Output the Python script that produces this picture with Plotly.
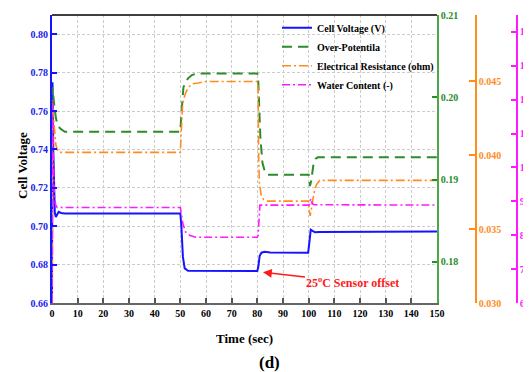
import plotly.graph_objects as go

# ---- data ----
t_cell = [0, 0.2, 0.5, 0.8, 1.1, 1.5, 2.0, 2.6, 3.5, 5, 50, 50.4, 51.0, 51.7, 53, 80, 80.4, 80.9, 81.6, 82.8, 85,
          99.8, 100.3, 100.8, 101.5, 102.5, 104, 150]
v_cell = [0.66, 0.775, 0.74, 0.712, 0.707, 0.7048, 0.7062, 0.7075, 0.7069, 0.7066, 0.7066, 0.700, 0.684, 0.678,
          0.6768, 0.6767, 0.679, 0.6845, 0.6862, 0.6867, 0.6863, 0.6862, 0.692, 0.6982, 0.6976, 0.6968, 0.697, 0.6972]

t_op = [0, 0.15, 0.4, 0.9, 1.5, 2.2, 3.2, 5, 50, 50.3, 50.6, 51.2, 52, 53, 54.5, 56.5, 80, 80.3, 80.7, 81.2, 82,
        83, 84, 100, 100.5, 101, 101.8, 102.6, 103.5, 150]
v_op = [0.175, 0.2012, 0.2005, 0.1990, 0.1975, 0.1966, 0.1962, 0.1958, 0.1958, 0.1975, 0.1990, 0.2012, 0.2018,
        0.2023, 0.2027, 0.2029, 0.2029, 0.2025, 0.1990, 0.1950, 0.1920, 0.1909, 0.1906, 0.1906, 0.1892, 0.1899,
        0.1917, 0.1925, 0.1927, 0.1927]

t_er = [0, 0.2, 0.5, 1.0, 1.5, 2.2, 3.0, 50, 50.3, 50.9, 51.8, 52.8, 53.8, 55, 57, 60, 80, 80.3, 80.5, 80.8, 81.5,
        82.5, 84, 100, 100.3, 100.6, 101.2, 102, 103, 104.3, 150]
v_er = [0.030, 0.0435, 0.0427, 0.0416, 0.0407, 0.0403, 0.0402, 0.0402, 0.0418, 0.0435, 0.0441, 0.0445, 0.0447,
        0.04485, 0.0449, 0.0450, 0.0450, 0.0445, 0.0400, 0.0381, 0.0373, 0.0370, 0.0369, 0.0369, 0.0362, 0.0359,
        0.0365, 0.0374, 0.0380, 0.0383, 0.0383]

t_wc = [0, 0.2, 0.5, 0.9, 1.4, 2.0, 50, 50.3, 51.0, 52.0, 53.8, 56, 80, 80.3, 80.6, 81.0, 100, 100.4, 100.8,
        101.3, 102, 150]
v_wc = [6, 12.0, 10.2, 9.2, 8.9, 8.82, 8.82, 8.70, 8.33, 8.10, 7.99, 7.94, 7.94, 8.0, 8.6, 8.89, 8.89, 8.92,
        9.08, 8.95, 8.9, 8.89]

x_ticks = list(range(0, 151, 10))
y1_ticks = [0.66, 0.68, 0.70, 0.72, 0.74, 0.76, 0.78, 0.80]
y2_ticks = [0.18, 0.19, 0.20, 0.21]
y3_ticks = [0.030, 0.035, 0.040, 0.045]
y4_ticks = [6, 7, 8, 9, 10, 11, 12, 13, 14]

FONT = "Liberation Serif"
BLUE = "#1414ff"
GREEN = "#2a8c2a"
ORANGE = "#ff8c1e"
MAGENTA = "#ff1aff"

fig = go.Figure()
fig.add_trace(go.Scatter(x=t_cell, y=v_cell, name="Cell Voltage (V)", mode="lines",
                         line=dict(color=BLUE, width=2), yaxis="y"))
fig.add_trace(go.Scatter(x=t_op, y=v_op, name="Over-Potentila", mode="lines",
                         line=dict(color=GREEN, width=2, dash="10px,6px"), yaxis="y2"))
fig.add_trace(go.Scatter(x=t_er, y=v_er, name="Electrical Resistance (ohm)", mode="lines",
                         line=dict(color=ORANGE, width=1.6, dash="9px,3px,2px,3px"), yaxis="y3"))
fig.add_trace(go.Scatter(x=t_wc, y=v_wc, name="Water Content (-)", mode="lines",
                         line=dict(color=MAGENTA, width=1.6, dash="8px,3px,2px,3px"), yaxis="y4"))

grid = dict(showgrid=True, gridcolor="#cccccc", gridwidth=1, griddash="3px,2px")

# the page body adds an 8px offset, so the figure is 8px smaller than the window
fig.update_layout(
    width=523, height=364,
    margin=dict(l=44, r=0, t=7, b=69, autoexpand=False),
    paper_bgcolor="white", plot_bgcolor="white",
    font=dict(family=FONT, size=10, color="black"),
    showlegend=True,
    legend=dict(x=0.4697, y=1.006, xanchor="left", yanchor="top", bgcolor="rgba(0,0,0,0)",
                font=dict(family=FONT, size=10, color="black", weight="bold"),
                itemwidth=30, tracegroupgap=0),
    xaxis=dict(domain=[0, 0.8038], range=[0, 150], tickvals=x_ticks, ticks="inside", ticklen=5,
               tickcolor="#555555", tickwidth=1.5, showline=True, linecolor="#666666", linewidth=2,
               zeroline=False, automargin=False,
               tickfont=dict(family=FONT, size=10, color="black", weight="bold"), **grid),
    yaxis=dict(range=[0.66, 0.81], tickvals=y1_ticks, tickformat=".2f", ticks="inside", ticklen=5,
               tickcolor=BLUE, tickwidth=1.5, showline=True, linecolor=BLUE, linewidth=2, zeroline=False,
               automargin=False,
               tickfont=dict(family=FONT, size=10, color="#1a1aee", weight="bold"), **grid),
    yaxis2=dict(overlaying="y", side="right", anchor="x", range=[0.175, 0.21], tickvals=y2_ticks,
                tickformat=".2f", ticks="inside", ticklen=5, tickcolor=GREEN, tickwidth=1.5, showline=True,
                linecolor="#4aa84a", linewidth=1.5, showgrid=False, zeroline=False, automargin=False,
                tickfont=dict(family=FONT, size=10, color=GREEN, weight="bold")),
    yaxis3=dict(overlaying="y", side="right", anchor="free", position=0.885, range=[0.030, 0.0495],
                tickvals=y3_ticks, tickformat=".3f", ticks="inside", ticklen=6, tickcolor=ORANGE,
                tickwidth=1.5, showline=True, linecolor=ORANGE, linewidth=1.5, showgrid=False, zeroline=False,
                automargin=False,
                tickfont=dict(family=FONT, size=10, color=ORANGE, weight="bold")),
    yaxis4=dict(overlaying="y", side="right", anchor="free", position=0.971, range=[6, 14.5],
                tickvals=y4_ticks, ticks="inside", ticklen=5, tickcolor=MAGENTA, tickwidth=1.5,
                showline=True, linecolor=MAGENTA, linewidth=1.5, showgrid=False, zeroline=False,
                automargin=False,
                tickfont=dict(family=FONT, size=10, color=MAGENTA, weight="bold")),
)

# top spine
fig.add_shape(type="line", xref="x domain", yref="y domain", x0=0, x1=1, y0=1, y1=1,
              line=dict(color="black", width=1.5))

# titles
fig.add_annotation(text="Time (sec)", xref="x domain", yref="paper", x=0.5, y=0, yshift=-35,
                   xanchor="center", yanchor="middle", showarrow=False,
                   font=dict(family=FONT, size=13, color="black", weight="bold"))
fig.add_annotation(text="(d)", xref="paper", yref="paper", x=(269 - 52) / 479, y=0, yshift=-59,
                   xanchor="center", yanchor="middle", showarrow=False,
                   font=dict(family=FONT, size=17, color="black", weight="bold"))
fig.add_annotation(text="Cell Voltage", xref="paper", yref="paper", x=(22 - 52) / 479, y=(303 - 166) / 288,
                   xanchor="center", yanchor="middle", textangle=-90, showarrow=False,
                   font=dict(family=FONT, size=13, color="black", weight="bold"))

# sensor-offset annotation (arrow from the label to the voltage step at t = 80 s)
fig.add_annotation(text="25<sup>o</sup>C Sensor offset", x=82.2, y=0.676, xref="x", yref="y",
                   ax=90, ay=10, showarrow=True, arrowhead=2, arrowsize=1.1, arrowwidth=1.6,
                   arrowcolor="#ff1a1a",
                   font=dict(family=FONT, size=12, color="#ff1a1a", weight="bold"))

fig.write_html("out.html")
